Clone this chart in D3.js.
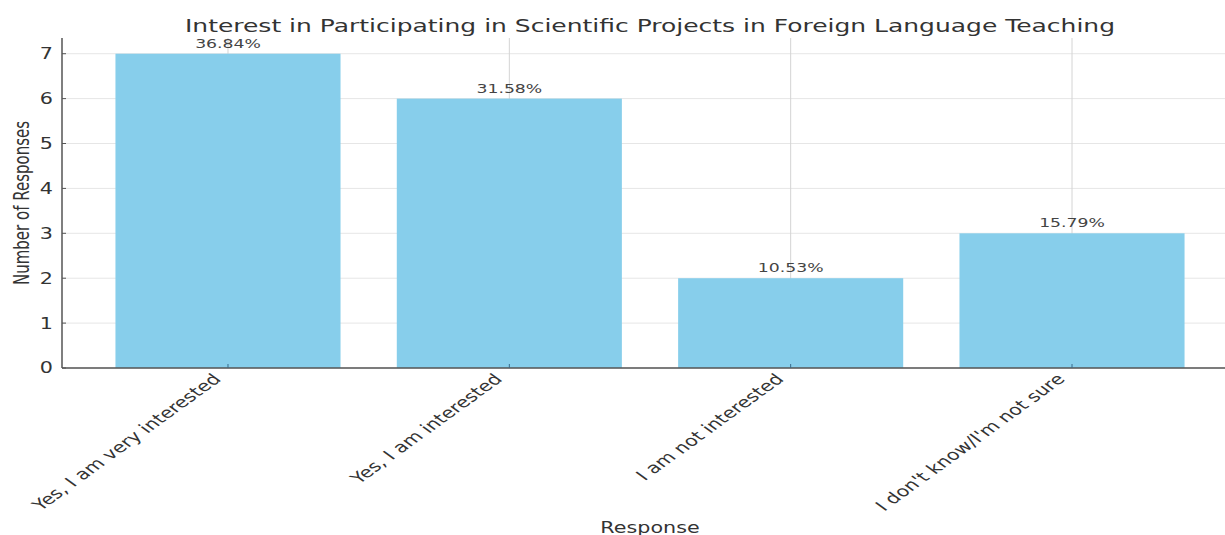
<!DOCTYPE html>
<html>
<head>
<meta charset="utf-8">
<script src="https://cdn.jsdelivr.net/npm/d3@7"></script>
<style>
  html, body { margin: 0; padding: 0; background: #fff; }
  svg { display: block; }
  text { font-family: "DejaVu Sans", sans-serif; }
</style>
</head>
<body>
<svg id="chart" width="1225" height="535"></svg>
<script>
// Survey responses
const categories = [
  "Yes, I am very interested",
  "Yes, I am interested",
  "I am not interested",
  "I don't know/I'm not sure"
];
const counts = [7, 6, 2, 3];
const percentLabels = ["36.84%", "31.58%", "10.53%", "15.79%"];
const yTicks = [0, 1, 2, 3, 4, 5, 6, 7];

const titleText = "Interest in Participating in Scientific Projects in Foreign Language Teaching";
const xTitle = "Response";
const yTitle = "Number of Responses";

// Text is drawn wide (horizontal stretch) to match the chart's aspect
const SX = 1.38;

const W = 1225, H = 535;
const plot = { left: 62, right: 1238, top: 38, bottom: 368 };

const svg = d3.select("#chart");

const x = d3.scaleLinear()
  .domain([-0.59, categories.length - 1 + 0.59])
  .range([plot.left, plot.right]);
const y = d3.scaleLinear()
  .domain([0, 7.35])
  .range([plot.bottom, plot.top]);
const barWidth = x(0.8) - x(0);

// horizontal grid
svg.append("g")
  .selectAll("line")
  .data(yTicks)
  .join("line")
  .attr("x1", plot.left).attr("x2", W)
  .attr("y1", d => y(d)).attr("y2", d => y(d))
  .attr("stroke", "#e6e6e6").attr("stroke-width", 1);

// vertical grid at category positions
svg.append("g")
  .selectAll("line")
  .data(categories)
  .join("line")
  .attr("x1", (d, i) => x(i)).attr("x2", (d, i) => x(i))
  .attr("y1", plot.top).attr("y2", plot.bottom)
  .attr("stroke", "#d4d4d4").attr("stroke-width", 1);

// bars
svg.append("g")
  .selectAll("rect")
  .data(counts)
  .join("rect")
  .attr("x", (d, i) => x(i) - barWidth / 2)
  .attr("width", barWidth)
  .attr("y", d => y(d))
  .attr("height", d => y(0) - y(d))
  .attr("fill", "#87ceeb");

// percentage labels above bars
svg.append("g")
  .selectAll("text")
  .data(counts)
  .join("text")
  .attr("transform", (d, i) => `translate(${x(i)},${y(d) - 6}) scale(${SX},1)`)
  .attr("text-anchor", "middle")
  .attr("font-size", 12.5)
  .attr("fill", "#444")
  .text((d, i) => percentLabels[i]);

// spines
svg.append("line")
  .attr("x1", plot.left).attr("x2", plot.left)
  .attr("y1", plot.top).attr("y2", plot.bottom)
  .attr("stroke", "#555").attr("stroke-width", 1.5);
svg.append("line")
  .attr("x1", plot.left).attr("x2", W)
  .attr("y1", plot.bottom).attr("y2", plot.bottom)
  .attr("stroke", "#555").attr("stroke-width", 1.5);

// y ticks and labels
const yG = svg.append("g");
yG.selectAll("line")
  .data(yTicks)
  .join("line")
  .attr("x1", plot.left).attr("x2", plot.left + 4)
  .attr("y1", d => y(d)).attr("y2", d => y(d))
  .attr("stroke", "#555");
yG.selectAll("text")
  .data(yTicks)
  .join("text")
  .attr("transform", d => `translate(${plot.left - 9},${y(d)}) scale(${SX},1)`)
  .attr("text-anchor", "end")
  .attr("dy", "0.36em")
  .attr("font-size", 15)
  .attr("fill", "#333")
  .text(d => d);

// x ticks and rotated labels
const xG = svg.append("g");
xG.selectAll("line")
  .data(categories)
  .join("line")
  .attr("x1", (d, i) => x(i)).attr("x2", (d, i) => x(i))
  .attr("y1", plot.bottom).attr("y2", plot.bottom - 4)
  .attr("stroke", "#3a6b8a");
xG.selectAll("text")
  .data(categories)
  .join("text")
  .attr("transform", (d, i) => `translate(${x(i) - 6},${plot.bottom + 12}) scale(${SX},1) rotate(-45)`)
  .attr("text-anchor", "end")
  .attr("font-size", 15)
  .attr("fill", "#333")
  .text(d => d);

// title
svg.append("text")
  .attr("transform", `translate(${(plot.left + plot.right) / 2},31.5) scale(${SX * 1.04},1)`)
  .attr("text-anchor", "middle")
  .attr("font-size", 17.4)
  .attr("fill", "#333")
  .text(titleText);

// axis titles
svg.append("text")
  .attr("transform", `translate(${(plot.left + plot.right) / 2},533) scale(${SX},1)`)
  .attr("text-anchor", "middle")
  .attr("font-size", 15)
  .attr("fill", "#333")
  .text(xTitle);

svg.append("text")
  .attr("transform", `translate(29,${(plot.top + plot.bottom) / 2}) scale(${SX},1) rotate(-90)`)
  .attr("text-anchor", "middle")
  .attr("font-size", 15)
  .attr("fill", "#333")
  .text(yTitle);
</script>
</body>
</html>
